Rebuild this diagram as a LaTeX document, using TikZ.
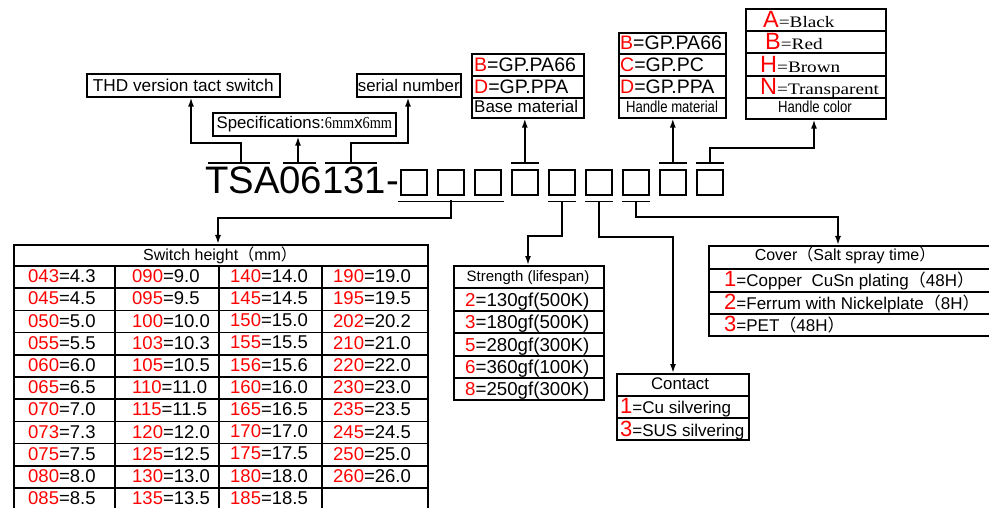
\documentclass[tikz,border=0pt]{standalone}
\usepackage{graphicx}
\usepackage{fontspec}
\setmainfont{Liberation Sans}
\newfontfamily\cjkfont{Noto Sans CJK SC}
\newfontfamily\serifnarrow{Liberation Serif}
\usetikzlibrary{arrows.meta}
\newcommand{\fsz}[1]{\fontsize{#1}{#1}\selectfont}
\newcommand{\redtxt}[1]{\textcolor{red}{#1}}
\newcommand{\fwl}{{\cjkfont （}}
\newcommand{\fwr}{{\cjkfont ）}}
\newcommand{\nar}[1]{{\serifnarrow\scalebox{0.85}[1]{#1}}}
\newcommand{\wid}[1]{{\serifnarrow\fsz{16}\scalebox{1.2}[1]{#1}}}
\newcommand{\cond}[1]{\scalebox{0.82}[1]{#1}}
\begin{document}
\begin{tikzpicture}[x=1pt,y=-1pt,
  box/.style={draw, line width=1.6pt, inner sep=0pt, anchor=north west},
  ln/.style={line width=1.6pt},
  arr/.style={line width=1.6pt, -{Latex[length=9pt,width=6pt]}},
  lbl/.style={inner sep=0pt, anchor=base west},
  ctr/.style={inner sep=0pt, anchor=base},
  sq/.style={draw, line width=1.6pt, inner sep=0pt, anchor=north west, minimum width=26pt, minimum height=25pt}
]
\useasboundingbox (0,0) rectangle (989,508);

% ---------- top left boxes ----------
\node[box, minimum width=193pt, minimum height=23pt, font=\fsz{17.2}] (thd) at (86,73) {THD version tact switch};
\node[box, minimum width=104pt, minimum height=23pt, font=\fsz{16.8}] (ser) at (356,73) {serial number};
\node[box, minimum width=183pt, minimum height=23pt, font=\fsz{16.8}] (spec) at (212,112) {Specifications:\nar{6mm}x\nar{6mm}};

% ---------- base material ----------
\node[box, minimum width=112pt, minimum height=22pt] (bmA) at (471,53) {};
\node[box, minimum width=112pt, minimum height=22pt] (bmB) at (471,75) {};
\node[box, minimum width=112pt, minimum height=20pt] (bmC) at (471,97) {};
\node[lbl, font=\fsz{19.5}] (bmAt) at (474,72) {\redtxt{B}=GP.PA66};
\node[lbl, font=\fsz{19.5}] (bmBt) at (474,94) {\redtxt{D}=GP.PPA};
\node[lbl, font=\fsz{17}] (bmCt) at (474,113) {Base material};

% ---------- handle material ----------
\node[box, minimum width=107pt, minimum height=21pt] (hmA) at (618,32) {};
\node[box, minimum width=107pt, minimum height=22pt] (hmB) at (618,53) {};
\node[box, minimum width=107pt, minimum height=22pt] (hmC) at (618,75) {};
\node[box, minimum width=107pt, minimum height=20pt] (hmD) at (618,97) {};
\node[lbl, font=\fsz{19.5}] (hmAt) at (620,50) {\redtxt{B}=GP.PA66};
\node[lbl, font=\fsz{19.5}] (hmBt) at (620,72) {\redtxt{C}=GP.PC};
\node[lbl, font=\fsz{19.5}] (hmCt) at (620,94) {\redtxt{D}=GP.PPA};
\node[ctr, font=\fsz{16}] (hmDt) at (672,113) {\cond{Handle material}};

% ---------- handle color ----------
\node[box, minimum width=140pt, minimum height=22pt] (hcA) at (745,8) {};
\node[box, minimum width=140pt, minimum height=22pt] (hcB) at (745,30) {};
\node[box, minimum width=140pt, minimum height=23pt] (hcC) at (745,52) {};
\node[box, minimum width=140pt, minimum height=22pt] (hcD) at (745,75) {};
\node[box, minimum width=140pt, minimum height=21pt] (hcE) at (745,97) {};
\node[lbl, font=\fsz{23.5}] (hcAt) at (763,28) {\redtxt{A}\wid{=Black}};
\node[lbl, font=\fsz{23.5}] (hcBt) at (765,50) {\redtxt{B}\wid{=Red}};
\node[lbl, font=\fsz{23.5}] (hcCt) at (760,73) {\redtxt{H}\wid{=Brown}};
\node[lbl, font=\fsz{23.5}] (hcDt) at (760,95) {\redtxt{N}\wid{=Transparent}};
\node[ctr, font=\fsz{16}] (hcEt) at (815,113) {\cond{Handle color}};

% ---------- code row ----------
\node[lbl, font=\fsz{38.3}] (code) at (205,194) {TSA06131-};
\foreach \i in {1,...,9} {
  \node[sq] (s\i) at ({400+37*(\i-1)},169) {};
}

% bars above the prefix
\draw[ln] (208,163) -- (270,163);
\draw[ln] (283,163) -- (316,163);
\draw[ln] (325,163) -- (377,163);
\coordinate (p1) at (241,163);
\coordinate (p2) at (298,163);
\coordinate (p3) at (351,163);
\coordinate (k1) at (191,143);
\coordinate (k3) at (408,143);
\draw[arr] (p1) |- (k1) -- (k1 |- thd.south);
\draw[arr] (p2) -- (p2 |- spec.south);
\draw[arr] (p3) |- (k3) -- (k3 |- ser.south);

% bars above squares
\foreach \i in {4,8,9} {
  \draw[ln] ([yshift=6pt]s\i.north west) -- ([yshift=6pt]s\i.north east);
}
\draw[arr] ([yshift=6pt]s4.north) -- (s4.north |- bmC.south);
\draw[arr] ([yshift=6pt]s8.north) -- (s8.north |- hmD.south);
\coordinate (k9) at (814,148);
\draw[arr] ([yshift=6pt]s9.north) |- (k9) -- (k9 |- hcE.south);

% bars below squares
\draw[ln] ([xshift=-2pt,yshift=-6pt]s1.south west) -- ([xshift=2pt,yshift=-6pt]s3.south east);
\foreach \i in {5,6,7} {
  \draw[ln] ([yshift=-6pt]s\i.south west) -- ([yshift=-6pt]s\i.south east);
}
\coordinate (b1) at (451,200);
\coordinate (k4) at (218,218);
\coordinate (k5) at (528,236);
\coordinate (k6) at (673,237);
\coordinate (k7) at (838,217);

% ---------- switch height table ----------
\node[box, minimum width=414pt, minimum height=266pt] (tab) at (13,244) {};
\draw[arr] (b1) |- (k4) -- (k4 |- tab.north);
\node[ctr, font=\fsz{16}] (tabh) at (220,260) {Switch height\fwl mm\fwr};
\foreach \r in {0,...,10} {
  \draw[ln] (13,{266+22.2*\r}) -- (427,{266+22.2*\r});
}
\foreach \x in {115,219,322} {
  \draw[ln] (\x,266) -- (\x,510);
}
\foreach [count=\r] \a/\b in {043/4.3,045/4.5,050/5.0,055/5.5,060/6.0,065/6.5,070/7.0,073/7.3,075/7.5,080/8.0,085/8.5} {
  \node[lbl, font=\fsz{18.5}] (ca\r) at (28,{266+22.2*\r-5.5}) {\redtxt{\a}=\b};
}
\foreach [count=\r] \a/\b in {090/9.0,095/9.5,100/10.0,103/10.3,105/10.5,110/11.0,115/11.5,120/12.0,125/12.5,130/13.0,135/13.5} {
  \node[lbl, font=\fsz{18.5}] (cb\r) at (132,{266+22.2*\r-5.5}) {\redtxt{\a}=\b};
}
\foreach [count=\r] \a/\b in {140/14.0,145/14.5,150/15.0,155/15.5,156/15.6,160/16.0,165/16.5,170/17.0,175/17.5,180/18.0,185/18.5} {
  \node[lbl, font=\fsz{18.5}] (cc\r) at (230,{266+22.2*\r-6}) {\redtxt{\a}=\b};
}
\foreach [count=\r] \a/\b in {190/19.0,195/19.5,202/20.2,210/21.0,220/22.0,230/23.0,235/23.5,245/24.5,250/25.0,260/26.0} {
  \node[lbl, font=\fsz{18.5}] (cd\r) at (333,{266+22.2*\r-5.5}) {\redtxt{\a}=\b};
}

% ---------- strength ----------
\node[box, minimum width=150pt, minimum height=22pt] (str1) at (453,265) {};
\node[box, minimum width=150pt, minimum height=23pt] (str2) at (453,287) {};
\node[box, minimum width=150pt, minimum height=22pt] (str3) at (453,310) {};
\node[box, minimum width=150pt, minimum height=23pt] (str4) at (453,332) {};
\node[box, minimum width=150pt, minimum height=22pt] (str5) at (453,355) {};
\node[box, minimum width=150pt, minimum height=22pt] (str6) at (453,377) {};
\node[ctr, font=\fsz{15}] (str1t) at (528,281) {Strength (lifespan)};
\node[lbl, font=\fsz{18.7}] (str2t) at (465,306) {\redtxt{2}=130gf(500K)};
\node[lbl, font=\fsz{18.7}] (str3t) at (465,328) {\redtxt{3}=180gf(500K)};
\node[lbl, font=\fsz{18.7}] (str4t) at (465,351) {\redtxt{5}=280gf(300K)};
\node[lbl, font=\fsz{18.7}] (str5t) at (465,373) {\redtxt{6}=360gf(100K)};
\node[lbl, font=\fsz{18.7}] (str6t) at (465,395) {\redtxt{8}=250gf(300K)};
\draw[arr] ([yshift=-6pt]s5.south) |- (k5) -- (k5 |- str1.north);

% ---------- contact ----------
\node[box, minimum width=132pt, minimum height=22pt] (con1) at (616,373) {};
\node[box, minimum width=132pt, minimum height=22pt] (con2) at (616,395) {};
\node[box, minimum width=132pt, minimum height=22pt] (con3) at (616,417) {};
\node[ctr, font=\fsz{16.8}] (con1t) at (680,389) {Contact};
\node[lbl, font=\fsz{17}] (con2t) at (620,413) {\redtxt{\fsz{22}1}=Cu silvering};
\node[lbl, font=\fsz{17}] (con3t) at (620,436) {\redtxt{\fsz{22}3}=SUS silvering};
\draw[arr] ([yshift=-6pt]s6.south) |- (k6) -- (k6 |- con1.north);

% ---------- cover ----------
\node[box, minimum width=283pt, minimum height=23pt] (cov1) at (708,245) {};
\node[box, minimum width=283pt, minimum height=23pt] (cov2) at (708,268) {};
\node[box, minimum width=283pt, minimum height=22pt] (cov3) at (708,291) {};
\node[box, minimum width=283pt, minimum height=22pt] (cov4) at (708,313) {};
\node[ctr, font=\fsz{16}] (cov1t) at (845,261) {Cover\fwl Salt spray time\fwr};
\node[lbl, font=\fsz{17}] (cov2t) at (724,287) {\redtxt{\fsz{22}1}=Copper\ \ CuSn plating\fwl 48H\fwr};
\node[lbl, font=\fsz{17}] (cov3t) at (724,309) {\redtxt{\fsz{22}2}=Ferrum with Nickelplate\fwl 8H\fwr};
\node[lbl, font=\fsz{17}] (cov4t) at (724,331) {\redtxt{\fsz{22}3}=PET\fwl 48H\fwr};
\draw[arr] ([yshift=-6pt]s7.south) |- (k7) -- (k7 |- cov1.north);
\end{tikzpicture}
\end{document}
